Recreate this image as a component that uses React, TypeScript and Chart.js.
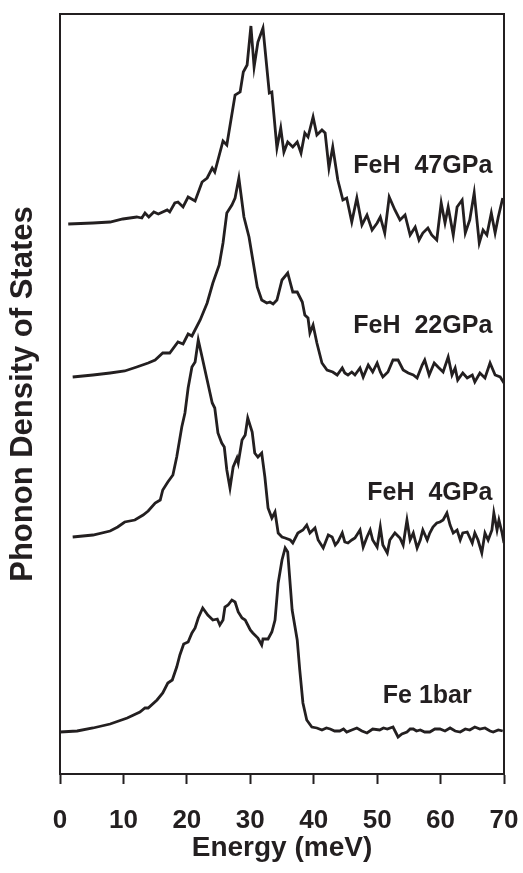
import React, { useEffect, useRef } from "react";
import { Chart, registerables } from "chart.js";

Chart.register(...registerables);

// Energy (meV) and phonon DOS (arbitrary units, relative to each curve's baseline)
const feEnergy = [0.0, 2.7, 5.2, 7.9, 10.6, 12.6, 13.4, 13.9, 15.3, 16.2, 17.0, 17.7, 18.4, 18.9, 19.5, 20.2, 20.8, 21.3, 21.8, 22.5, 23.3, 24.1, 24.8, 25.2, 25.7, 26.0, 26.5, 27.1, 27.6, 28.1, 28.7, 29.2, 30.0, 30.4, 31.2, 31.8, 32.0, 32.8, 33.4, 33.9, 34.4, 35.0, 35.5, 35.9, 36.6, 37.4, 37.8, 38.3, 38.9, 39.7, 40.5, 41.3, 42.0, 42.6, 43.3, 44.1, 44.7, 45.2, 46.0, 46.8, 47.6, 48.4, 49.3, 50.4, 51.0, 51.6, 52.5, 53.3, 53.9, 54.7, 55.2, 55.7, 56.2, 56.8, 57.5, 58.3, 59.1, 59.9, 60.7, 61.5, 62.3, 63.1, 63.9, 64.6, 65.4, 66.2, 67.0, 67.8, 68.3, 69.1, 69.8];
const feDos = [0, 1, 4, 8, 14, 20, 24, 24, 32, 39, 49, 52, 65, 77, 88, 90, 99, 104, 114, 124, 117, 112, 113, 107, 112, 125, 127, 132, 130, 120, 114, 112, 102, 99, 94, 87, 93, 93, 100, 112, 149, 172, 184, 180, 122, 92, 62, 29, 12, 5, 4, 2, 4, 3, 1, 1, 3, 0, 2, 4, 1, -1, 3, 2, 4, 3, 5, -5, -2, 0, 3, 3, 1, 2, 0, 0, 3, 3, 1, 4, 1, 0, 3, 2, 5, 3, 4, 1, 0, 2, 1];

const feh4Energy = [2.0, 5.2, 7.9, 9.1, 10.2, 11.8, 13.1, 13.9, 15.0, 15.8, 16.2, 17.0, 17.8, 18.4, 19.2, 19.7, 20.2, 20.8, 21.3, 21.8, 22.4, 23.2, 24.0, 24.4, 24.9, 25.5, 25.9, 26.3, 26.8, 27.3, 27.9, 28.1, 28.7, 29.2, 29.6, 30.3, 30.7, 31.2, 31.8, 32.3, 32.8, 33.4, 33.9, 34.4, 35.0, 35.5, 36.3, 36.7, 37.5, 38.3, 38.9, 39.4, 40.2, 40.7, 41.5, 42.3, 42.9, 43.4, 43.8, 44.5, 44.9, 45.4, 46.0, 46.5, 47.3, 47.8, 48.4, 48.9, 49.3, 50.0, 50.5, 50.9, 51.6, 52.0, 52.8, 53.6, 54.1, 54.7, 55.2, 55.7, 56.3, 56.8, 57.2, 57.9, 58.3, 58.8, 59.4, 59.9, 60.4, 61.0, 61.5, 62.0, 62.6, 63.1, 63.5, 64.2, 65.0, 65.4, 65.9, 66.5, 67.0, 67.5, 68.1, 68.4, 68.9, 69.2, 69.7, 70.0];
const feh4Dos = [0, 2, 6, 10, 15, 17, 22, 26, 34, 37, 47, 55, 62, 80, 110, 124, 149, 170, 175, 197, 180, 157, 134, 129, 104, 94, 90, 67, 49, 70, 79, 74, 97, 102, 119, 105, 84, 80, 84, 60, 29, 19, 25, 4, 0, -1, -3, -6, 4, 7, 12, 4, 9, -3, -11, 2, 0, -8, -5, 4, -5, -6, -3, -1, 7, -10, 0, 7, -3, -10, 10, -8, -16, -3, 4, -1, -8, 17, -3, 4, -11, -3, 7, -3, 4, 10, 14, 15, 17, 24, 12, 4, 7, -3, 4, 5, -6, 4, -3, -16, 4, -3, 7, 24, 7, 17, 4, -6];

const feh22Energy = [2.0, 5.2, 7.9, 10.2, 12.1, 13.9, 15.0, 16.2, 17.3, 18.6, 19.4, 20.2, 20.8, 22.1, 23.2, 24.1, 25.1, 25.7, 26.3, 27.1, 27.6, 28.2, 29.0, 29.8, 30.4, 31.1, 31.8, 32.6, 33.1, 33.6, 34.2, 35.0, 35.9, 36.7, 37.4, 38.2, 38.6, 39.1, 39.4, 39.9, 40.5, 41.3, 42.1, 43.0, 43.7, 44.5, 44.9, 45.4, 46.0, 46.5, 47.3, 47.8, 48.6, 49.3, 50.0, 50.5, 50.9, 51.7, 52.5, 53.3, 54.1, 54.9, 55.7, 56.3, 57.1, 57.5, 58.2, 59.0, 59.6, 60.4, 61.2, 61.8, 62.3, 62.7, 63.5, 64.2, 65.0, 65.4, 66.2, 67.0, 67.8, 68.6, 69.4, 70.0];
const feh22Dos = [0, 2, 4, 6, 10, 14, 17, 24, 24, 35, 33, 43, 41, 57, 74, 94, 112, 134, 164, 172, 179, 199, 160, 140, 117, 90, 77, 74, 75, 73, 77, 97, 104, 85, 85, 75, 62, 59, 44, 52, 34, 14, 7, 5, 2, 9, 4, 2, 5, 2, 9, 0, 12, 5, 14, 5, 0, 5, 17, 17, 7, 4, 2, -1, 12, 17, 2, 14, 10, 5, 20, 2, 9, -3, 4, -1, 2, -5, 4, -1, 14, 2, 0, -6];

const feh47Energy = [1.3, 5.2, 7.9, 9.9, 12.1, 12.9, 13.4, 14.0, 14.8, 15.5, 16.9, 17.3, 18.1, 18.6, 19.4, 20.2, 21.3, 22.4, 23.2, 24.0, 24.4, 25.7, 26.3, 27.6, 28.4, 28.9, 29.5, 30.1, 30.6, 31.2, 32.0, 33.0, 33.4, 34.2, 34.8, 35.3, 35.9, 36.7, 37.4, 38.0, 38.6, 39.1, 39.9, 40.5, 41.3, 41.8, 42.4, 43.0, 43.8, 44.6, 45.2, 46.0, 46.8, 47.6, 48.4, 49.2, 50.0, 50.5, 51.2, 51.9, 52.8, 53.6, 54.4, 55.2, 56.0, 56.6, 57.2, 58.0, 58.6, 59.4, 60.1, 60.7, 61.2, 62.0, 62.6, 63.4, 63.9, 64.6, 65.3, 66.1, 66.7, 67.3, 68.0, 68.6, 69.1, 69.8];
const feh47Dos = [0, 1, 2, 5, 7, 6, 11, 7, 12, 10, 14, 12, 21, 22, 17, 27, 23, 42, 46, 56, 52, 83, 79, 129, 132, 152, 159, 198, 157, 182, 196, 131, 132, 76, 96, 72, 82, 77, 82, 71, 91, 87, 107, 89, 94, 91, 56, 77, 44, 24, 26, 2, 26, -1, 9, -6, 1, 7, -9, 27, 14, 4, 9, -11, -3, -16, -9, -4, -11, -16, 21, 1, 17, -11, 17, 24, -9, 4, 31, -19, -6, -11, 11, -9, 7, 26];

// Vertical offsets of the stacked curves (same arbitrary units)
const curveNames = ["Fe 1bar", "FeH  4GPa", "FeH  22GPa", "FeH  47GPa"];
const curveOffsets = [42, 237, 397, 550];

// Label anchors (meV, units)
const labelX = [57.9, 58.3, 57.2, 57.2];
const labelY = [71, 274, 441, 601];

const xTicks = [0, 10, 20, 30, 40, 50, 60, 70];

const INK = "#231f20";

export default function App() {
  const ref = useRef<HTMLCanvasElement | null>(null);

  useEffect(() => {
    document.body.style.margin = "0";
    const canvas = ref.current;
    if (!canvas) return;

    const series = [
      [feEnergy, feDos],
      [feh4Energy, feh4Dos],
      [feh22Energy, feh22Dos],
      [feh47Energy, feh47Dos],
    ];

    const datasets = series.map(([xs, ys], i) => ({
      label: curveNames[i],
      data: xs.map((x, j) => ({ x, y: ys[j] + curveOffsets[i] })),
      borderColor: INK,
      borderWidth: 2.8,
      pointRadius: 0,
      tension: 0,
      fill: false,
    }));

    const framePlugin = {
      id: "frame",
      afterDraw(chart: any) {
        const { ctx, chartArea } = chart;
        ctx.save();
        ctx.strokeStyle = INK;
        ctx.lineWidth = 2;
        ctx.strokeRect(chartArea.left, chartArea.top, chartArea.right - chartArea.left, chartArea.bottom - chartArea.top);
        ctx.restore();
      },
    };

    const labelPlugin = {
      id: "curveLabels",
      afterDatasetsDraw(chart: any) {
        const { ctx, scales } = chart;
        ctx.save();
        ctx.fillStyle = INK;
        ctx.font = "bold 25px 'Liberation Sans', Arial, sans-serif";
        ctx.textAlign = "center";
        ctx.textBaseline = "alphabetic";
        curveNames.forEach((name, i) => {
          ctx.fillText(name, scales.x.getPixelForValue(labelX[i]), scales.y.getPixelForValue(labelY[i]));
        });
        ctx.restore();
      },
    };

    const chart = new Chart(canvas, {
      type: "line",
      data: { datasets },
      plugins: [framePlugin, labelPlugin],
      options: {
        animation: false,
        responsive: true,
        maintainAspectRatio: false,
        layout: { padding: { top: 14, right: 19, left: 0, bottom: 0 } },
        plugins: { legend: { display: false }, tooltip: { enabled: false } },
        scales: {
          x: {
            type: "linear",
            min: 0,
            max: 70,
            afterFit(scale: any) {
              scale.height = 99;
              scale.paddingLeft = 0;
              scale.paddingRight = 0;
            },
            afterBuildTicks(scale: any) {
              scale.ticks = xTicks.map((v) => ({ value: v }));
            },
            grid: {
              drawOnChartArea: false,
              drawTicks: true,
              tickLength: 10,
              tickWidth: 2,
              tickColor: INK,
            },
            border: { display: true, color: INK, width: 2 },
            ticks: {
              color: INK,
              padding: 21,
              maxRotation: 0,
              autoSkip: false,
              font: { family: "'Liberation Sans', Arial, sans-serif", size: 26, weight: "bold" },
            },
            title: {
              display: true,
              text: "Energy (meV)",
              color: INK,
              padding: { top: 0, bottom: 8 },
              font: { family: "'Liberation Sans', Arial, sans-serif", size: 28, weight: "bold" },
            },
          },
          y: {
            type: "linear",
            min: 0,
            max: 760,
            afterFit(scale: any) {
              scale.width = 60;
            },
            grid: { display: false, drawTicks: false },
            border: { display: true, color: INK, width: 2 },
            ticks: { display: false },
            title: {
              display: true,
              text: "Phonon Density of States",
              color: INK,
              padding: { top: 5, bottom: 0 },
              font: { family: "'Liberation Sans', Arial, sans-serif", size: 31, weight: "bold" },
            },
          },
        },
      } as any,
    });

    return () => chart.destroy();
  }, []);

  return (
    <div style={{ width: 523, height: 873, position: "relative" }}>
      <canvas ref={ref} />
    </div>
  );
}
